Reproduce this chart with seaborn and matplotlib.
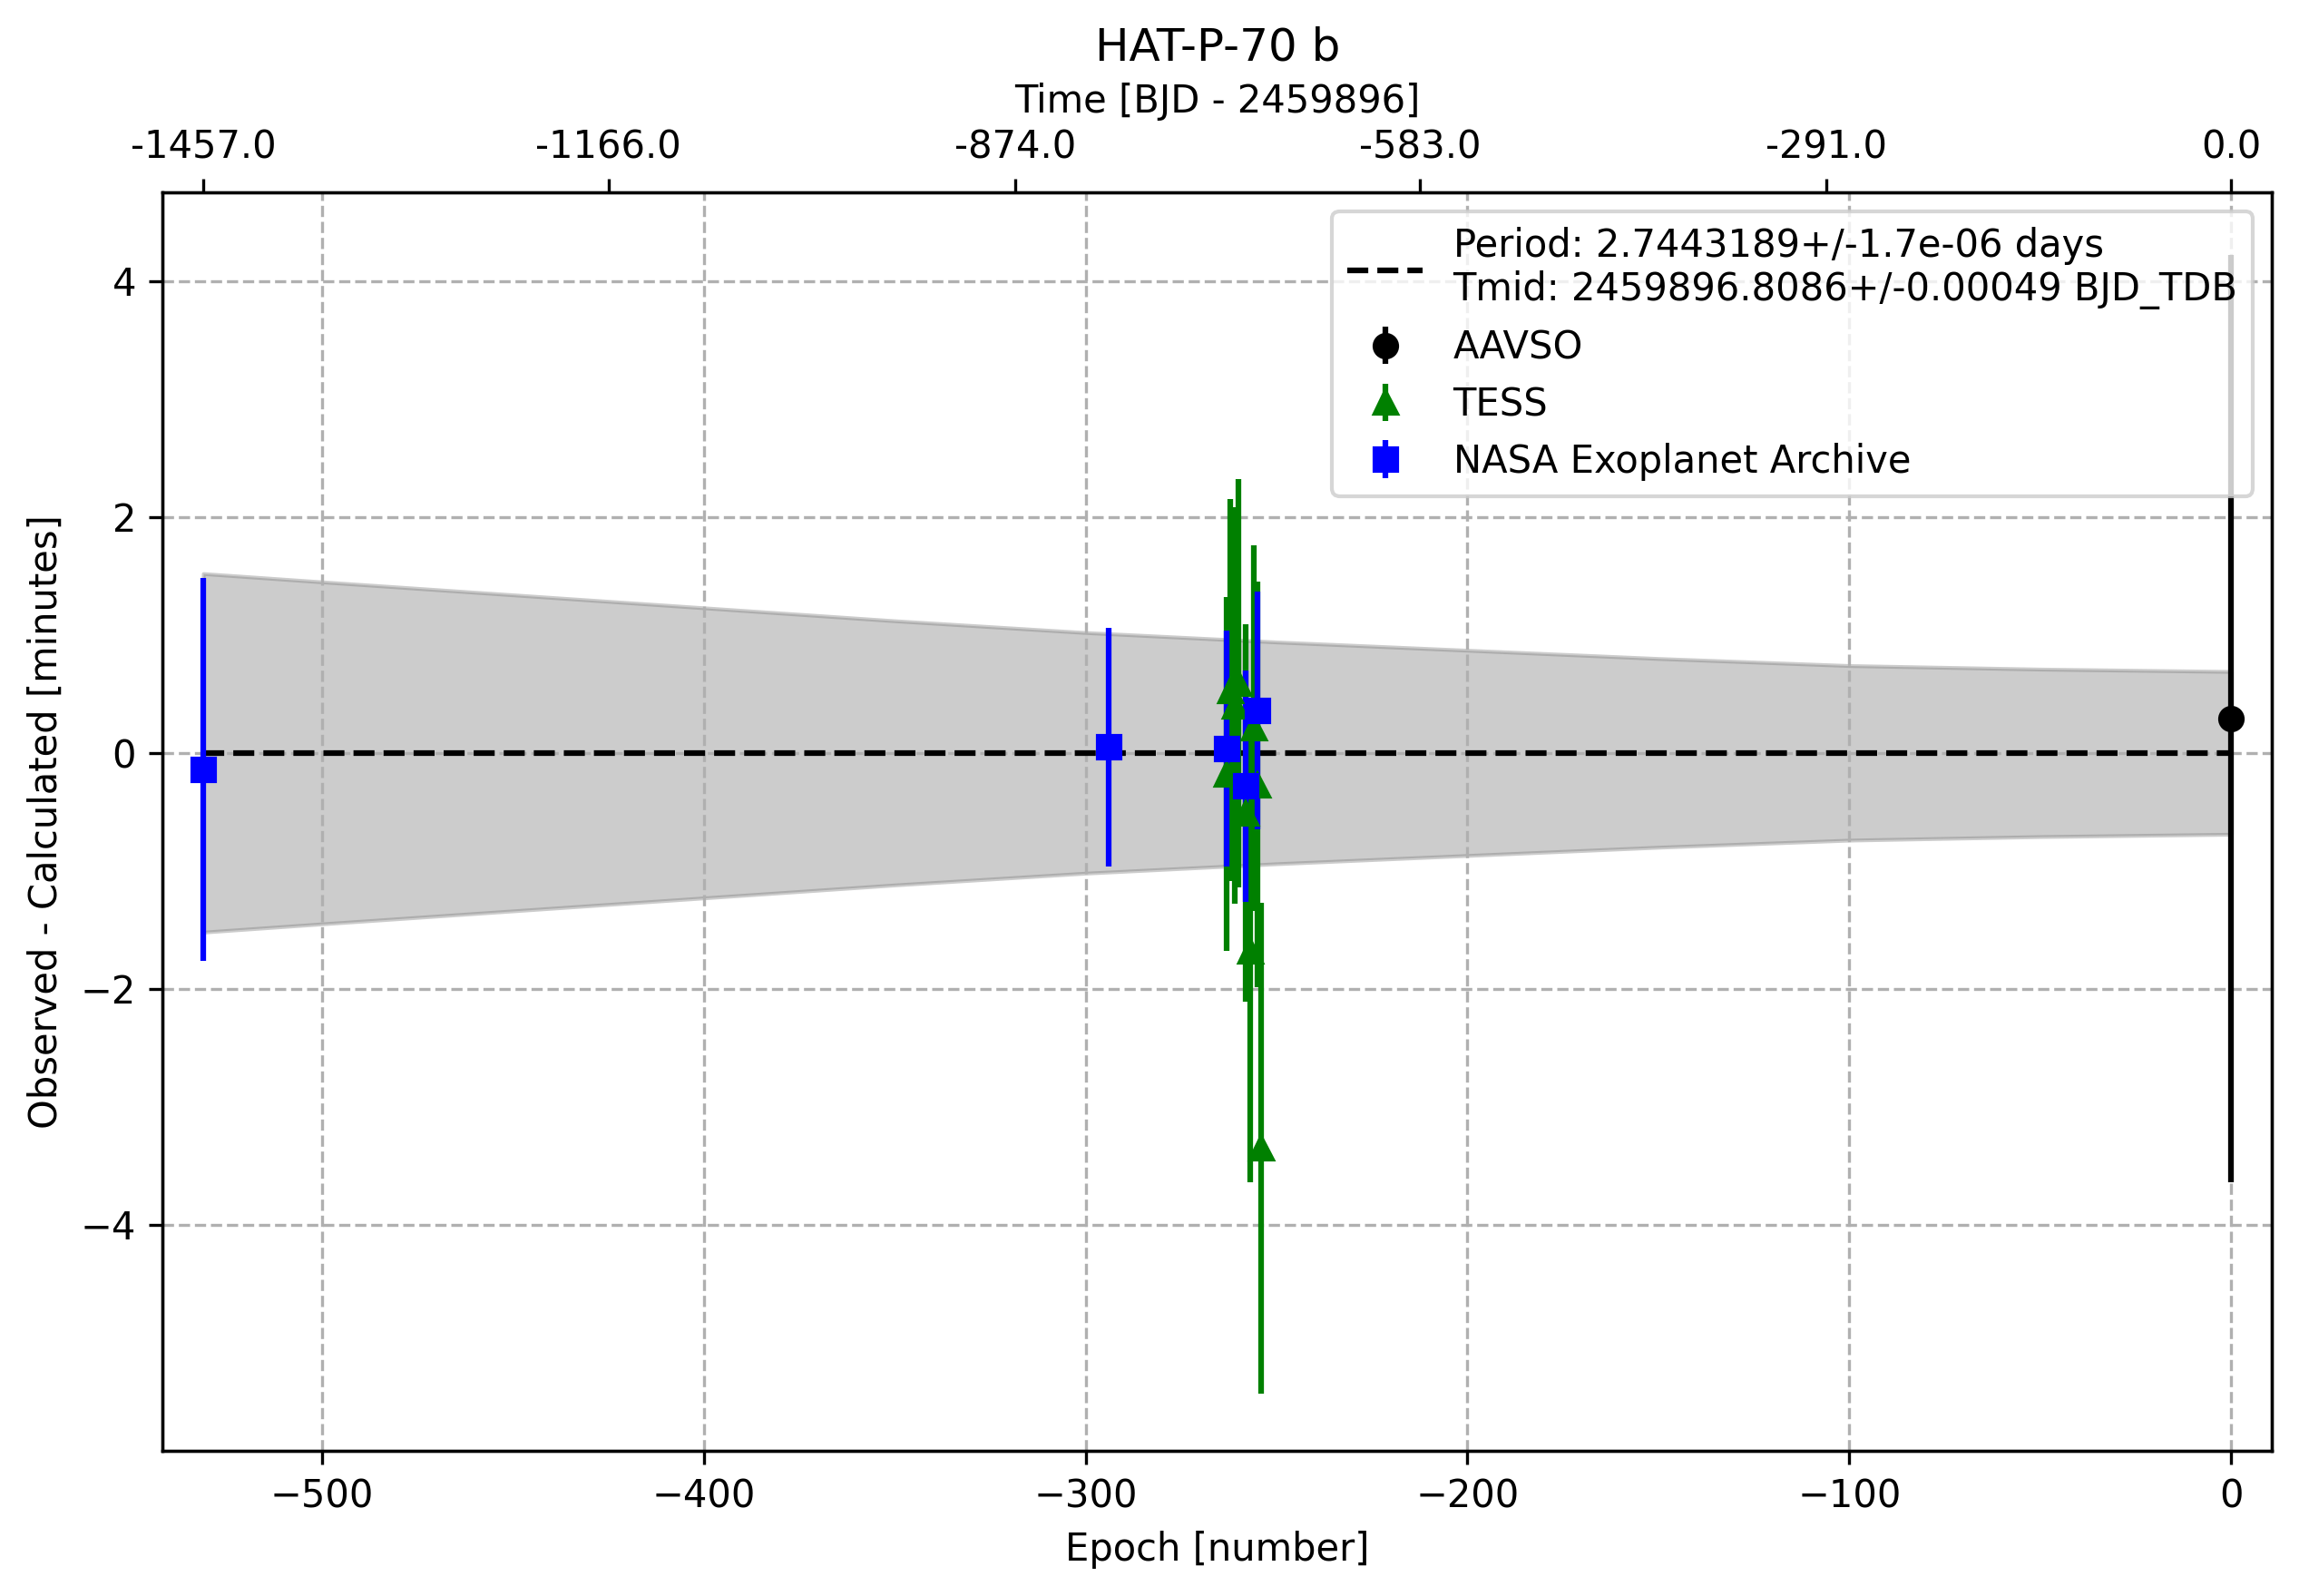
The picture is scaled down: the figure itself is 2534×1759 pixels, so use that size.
import numpy as np
import matplotlib
matplotlib.use('Agg')
import matplotlib.pyplot as plt
import seaborn as sns

# %%

period = 2.7443189

aavso_epoch = [0]
aavso_oc = [0.29]
aavso_err = [3.93]

tess_epoch = [-263, -262, -261, -260, -258, -257, -256, -255, -254]
tess_oc = [-0.18, 0.53, 0.40, 0.59, -0.51, -1.68, 0.21, -0.27, -3.35]
tess_err = [1.50, 1.62, 1.68, 1.73, 1.60, 1.96, 1.55, 1.72, 2.08]

nasa_epoch = [-531, -294, -263, -258, -255]
nasa_oc = [-0.14, 0.05, 0.04, -0.28, 0.36]
nasa_err = [1.62, 1.01, 1.00, 0.98, 1.01]

# 1-sigma ephemeris uncertainty (minutes)
band_epoch = [-531, -500, -450, -400, -350, -300, -250, -200, -150, -100, -50, 0]
band_width = [1.52, 1.45, 1.34, 1.23, 1.12, 1.02, 0.94, 0.87, 0.80, 0.74, 0.71, 0.69]

top_times = [-1457.0, -1166.0, -874.0, -583.0, -291.0, 0.0]

fit_label = ('Period: 2.7443189+/-1.7e-06 days\n'
             'Tmid: 2459896.8086+/-0.00049 BJD_TDB')

# %%

fig, ax = plt.subplots(figsize=(2534 / 300, 1759 / 300), dpi=300)
fig.subplots_adjust(left=0.0708, right=0.9882, bottom=0.0908, top=0.8793)

bw = np.array(band_width)
ax.fill_between(band_epoch, -bw, bw, color='gray', alpha=0.4)
sns.lineplot(x=[band_epoch[0], band_epoch[-1]], y=[0, 0], color='k',
             linestyle='--', errorbar=None, label=fit_label, ax=ax)

ax.errorbar(aavso_epoch, aavso_oc, yerr=aavso_err, fmt='o', color='black', label='AAVSO')
ax.errorbar(tess_epoch, tess_oc, yerr=tess_err, fmt='^', color='green', label='TESS')
ax.errorbar(nasa_epoch, nasa_oc, yerr=nasa_err, fmt='s', color='blue',
            label='NASA Exoplanet Archive')

ax.set_xlim(-541.6, 10.6)
ax.set_ylim(-5.92, 4.75)
ax.set_xlabel('Epoch [number]')
ax.set_ylabel('Observed - Calculated [minutes]')
ax.grid(True, ls='--')
ax.legend(loc='upper right')

ax2 = ax.twiny()
ax2.set_xlim(ax.get_xlim())
ax2.set_xticks(np.array(top_times) / period)
ax2.set_xticklabels([f'{t:.1f}' for t in top_times])
ax2.set_xlabel('Time [BJD - 2459896]')
ax.set_title('HAT-P-70 b')

fig.savefig('out.png', dpi=300)
plt.close(fig)
